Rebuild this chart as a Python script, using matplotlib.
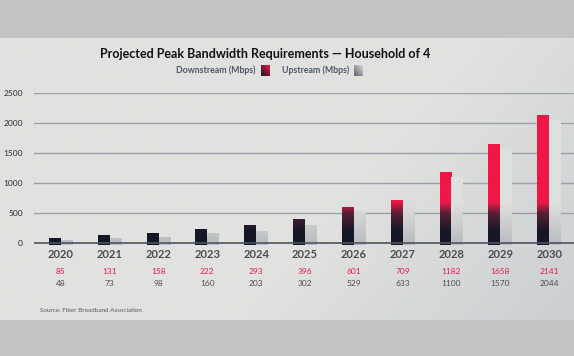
import matplotlib.pyplot as plt
import numpy as np
from matplotlib.colors import LinearSegmentedColormap
from matplotlib.patches import Rectangle
import matplotlib.transforms as mtransforms

years = ['2020', '2021', '2022', '2023', '2024', '2025', '2026', '2027', '2028', '2029', '2030']
downstream = [85, 131, 158, 222, 293, 396, 601, 709, 1182, 1658, 2141]
upstream = [48, 73, 98, 160, 203, 302, 529, 633, 1100, 1570, 2044]
yticks = [0, 500, 1000, 1500, 2000, 2500]

W, H = 574, 356
fig = plt.figure(figsize=(W / 100, H / 100), dpi=100)
plt.rcParams['font.family'] = ['Lato', 'DejaVu Sans']

# background: grey bands + light panel with soft gradient
bg = fig.add_axes([0, 0, 1, 1])
bg.set_axis_off()
bg.add_patch(Rectangle((0, 0), W, H, color='#c3c3c3', zorder=0))
gx, gy = np.meshgrid(np.linspace(0, 1, 200), np.linspace(0, 1, 100))
grad = np.clip(gx * 0.7 + gy * 0.3 - 0.2, 0, 1)
panel_cmap = LinearSegmentedColormap.from_list('panel', ['#e1e2df', '#e1e2df', '#cbcfd2'])
bg.imshow(grad, cmap=panel_cmap, extent=[0, W, 320, 38], aspect='auto', zorder=1)

# main axes
ax = fig.add_axes([34 / W, 1 - 247 / H, 1 - 34 / W, (247 - 93.3) / H])
ax.patch.set_alpha(0)
for s in ax.spines.values():
    s.set_visible(False)
ax.set_xticks([])
ax.set_yticks(yticks)
ax.set_yticklabels([str(v) for v in yticks], fontsize=6, color='#2a2a35')
ax.tick_params(axis='y', length=0, pad=8)
for v in yticks[1:]:
    ax.axhline(v, color='#9ba1a9', lw=1, zorder=1)
ax.axhline(0, color='#4c5460', lw=1.2, zorder=5)

# gradients are tied to the value scale, not the bar height
down_cmap = LinearSegmentedColormap.from_list(
    'down', [(0, '#141826'), (0.08, '#141826'), (0.2, '#5a2035'), (0.27, '#ee1846'), (1, '#ee1846')])
up_cmap = LinearSegmentedColormap.from_list(
    'up', [(0, '#b9bdc1'), (0.27, '#dfe0dd'), (1, '#dfe0dd')])

bw = 0.245
base = -30
x = np.arange(len(years))
for i in range(len(years)):
    for val, off, cm in ((downstream[i], -bw / 2, down_cmap), (upstream[i], bw / 2, up_cmap)):
        col = np.linspace(base, val, 200).reshape(-1, 1)
        ax.imshow(col, cmap=cm, vmin=0, vmax=2500, origin='lower', aspect='auto',
                  extent=[x[i] + off - bw / 2, x[i] + off + bw / 2, base, val], zorder=3)
ax.set_xlim(-0.553, 10.51)
ax.set_ylim(-70, 2500)

trans = mtransforms.blended_transform_factory(ax.transData, fig.transFigure)
for i in range(len(years)):
    ax.text(x[i], 1 - 254 / H, years[i], transform=trans, ha='center', va='center',
            fontsize=8, fontweight='bold', color='#474c55')
    ax.text(x[i], 1 - 271 / H, str(downstream[i]), transform=trans, ha='center', va='center',
            fontsize=6, color='#ea1a4b')
    ax.text(x[i], 1 - 284 / H, str(upstream[i]), transform=trans, ha='center', va='center',
            fontsize=6, color='#4a4e57')

fig.text(265 / W, 1 - 54 / H, 'Projected Peak Bandwidth Requirements \u2014 Household of 4',
         ha='center', va='center', fontsize=9, fontweight='bold', color='#111111')
fig.text(256 / W, 1 - 70 / H, 'Downstream (Mbps)', ha='right', va='center',
         fontsize=6.3, fontweight='bold', color='#4e5666')
fig.text(349 / W, 1 - 70 / H, 'Upstream (Mbps)', ha='right', va='center',
         fontsize=6.3, fontweight='bold', color='#4e5666')
fig.text(40 / W, 1 - 311 / H, 'Source: Fiber Broadband Association', ha='left', va='center',
         fontsize=4.5, color='#555a62')

# legend swatches
sw = np.linspace(0, 1, 50)
sw = (sw[None, :] + sw[::-1, None]) / 2
bg.imshow(sw, cmap=LinearSegmentedColormap.from_list('s1', ['#141826', '#ee1846']),
          extent=[261, 270, 76, 65], aspect='auto', zorder=2)
bg.imshow(sw, cmap=LinearSegmentedColormap.from_list('s2', ['#5a6068', '#d8dadc']),
          extent=[354, 363, 76, 65], aspect='auto', zorder=2)
bg.set_xlim(0, W)
bg.set_ylim(H, 0)

fig.savefig('out.png', dpi=100)
